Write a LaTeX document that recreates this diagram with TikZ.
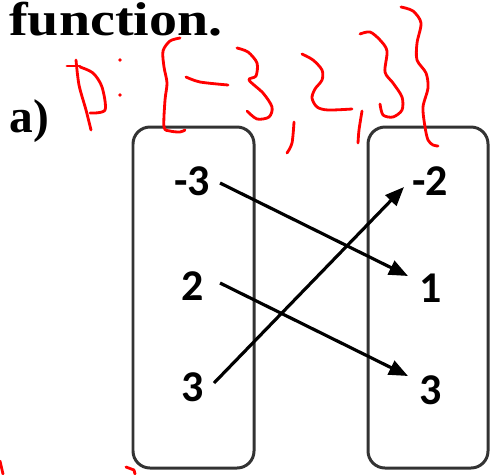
\documentclass[tikz,border=0pt]{standalone}
\usepackage{fontspec}
\setmainfont{Liberation Serif}
\newfontfamily\numfont{Carlito}
\newfontfamily\headfont[FakeStretch=1.18]{Liberation Serif}
\usetikzlibrary{arrows.meta}
\begin{document}
\begin{tikzpicture}[x=0.02cm,y=-0.02cm,
  setbox/.style={draw=black!80, line width=1.7pt, rounded corners=0.34cm},
  num/.style={font=\numfont\bfseries\fontsize{25}{25}\selectfont, anchor=base, inner sep=0pt},
  head/.style={font=\headfont\bfseries\fontsize{27}{27}\selectfont, anchor=base west, inner sep=0pt},
  maparrow/.style={line width=1.8pt, -{Triangle[length=0.38cm,width=0.3cm]}},
  ink/.style={red, line width=1.6pt, line cap=round, line join=round}]
\useasboundingbox (0,0) rectangle (492,474);
% heading
\node[head] (title) at (9,35) {function.};
\node[head, font=\bfseries\fontsize{27}{27}\selectfont] (part) at (9,132) {a)};
% boxes
\draw[setbox] (133,127) rectangle (254,468);
\draw[setbox] (368,127) rectangle (488,468);
% domain
\node[num] (dm3) at (192,195) {-3};
\node[num] (d2) at (193,300) {2};
\node[num] (d3) at (193,401) {3};
% range
\node[num] (rm2) at (430,195) {-2};
\node[num] (r1) at (431,302) {1};
\node[num] (r3) at (431,404) {3};
% arrow ends
\coordinate (a1s) at (220,183);
\coordinate (a1e) at (408,276);
\coordinate (a2s) at (220,283);
\coordinate (a2e) at (408,376);
\coordinate (a3s) at (214,383);
\coordinate (a3e) at (404,187);
\draw[maparrow] (a1s) -- (a1e);
\draw[maparrow] (a2s) -- (a2e);
\draw[maparrow] (a3s) -- (a3e);
% red handwriting  D: {-3,2,3}
\draw[ink] plot[smooth] coordinates {(76,60) (79,85) (86,110) (91,130)};
\draw[ink] (67,66) -- (80,66);
\draw[ink] plot[smooth] coordinates {(80,67) (93,73) (102,87) (105,110) (90,113)};
\fill[red] (120,60) circle (1.8);
\fill[red] (120,95) circle (1.8);
\draw[ink] plot[smooth] coordinates {(180,38) (170,41) (163,51) (164,67) (167,83) (165,100) (164,127) (170,131) (180,132) (185,130)};
\draw[ink] plot[smooth] coordinates {(186,77) (200,82) (228,85)};
\draw[ink] plot[smooth] coordinates {(237,48) (248,52) (257,63) (256,76) (249,80) (263,93) (272,107) (269,117) (257,119) (247,111)};
\draw[ink] plot[smooth] coordinates {(294,122) (292,143) (287,153)};
\draw[ink] plot[smooth] coordinates {(302,54) (313,60) (322,70) (322,80) (315,89) (312,98) (317,107) (328,110) (352,109)};
\draw[ink] plot[smooth] coordinates {(362,111) (359,130) (358,143)};
\draw[ink] plot[smooth] coordinates {(360,34) (370,32) (380,40) (387,51) (385,72) (393,83) (402,97) (402,110) (393,117) (383,115) (380,104)};
\draw[ink] plot[smooth] coordinates {(401,7) (413,11) (421,23) (417,43) (417,60) (426,73) (428,88) (423,107) (425,127) (428,140) (433,145) (438,146)};
\draw[ink] (0,461) -- (3,474);
\draw[ink] (126,467) -- (134,470) -- (135,474);
\end{tikzpicture}
\end{document}
